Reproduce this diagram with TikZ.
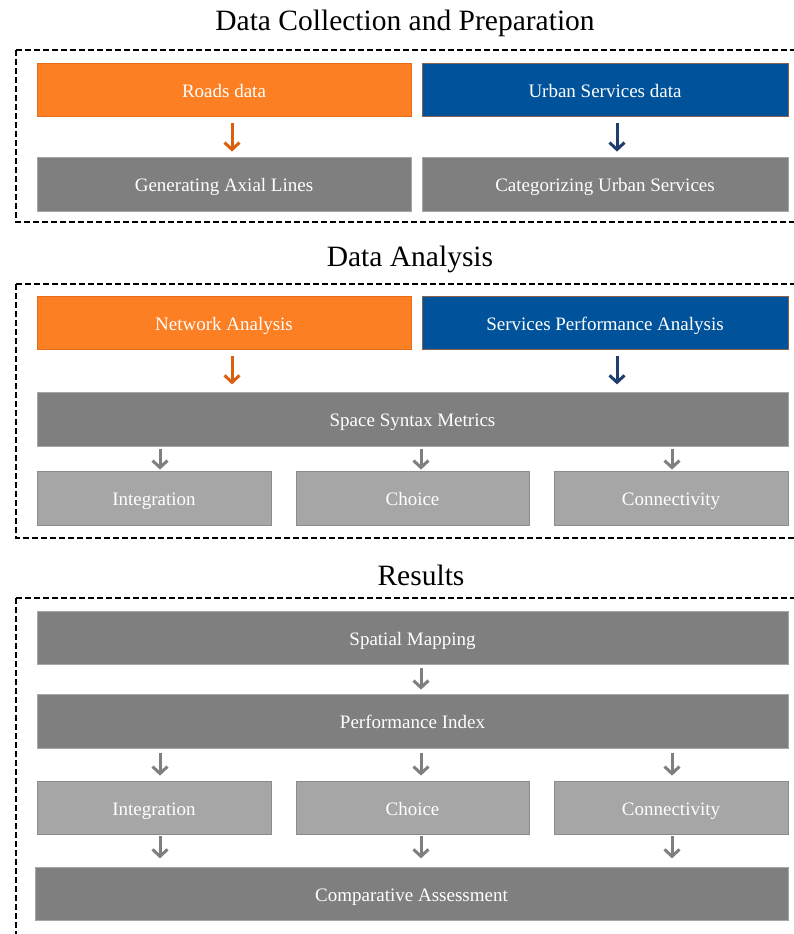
\documentclass[tikz,border=0pt]{standalone}
\usepackage{fontspec}
\setmainfont{Liberation Serif}
\usetikzlibrary{arrows.meta}
\definecolor{orng}{HTML}{FD7F23}
\definecolor{orngline}{HTML}{E46C1A}
\definecolor{orngarrow}{HTML}{D9600E}
\definecolor{blu}{HTML}{00539B}
\definecolor{bluarrow}{HTML}{1F3D6E}
\definecolor{dgrey}{HTML}{7F7F7F}
\definecolor{lgrey}{HTML}{A6A6A6}
\tikzset{
  basebox/.style={rectangle, inner sep=0pt, text=white, font=\fontsize{19}{20}\selectfont, text height=17pt, text depth=2pt, line width=0.8pt},
  orangebox/.style={basebox, fill=orng, draw=orngline},
  bluebox/.style={basebox, fill=blu, draw=orngline!60!blu},
  darkbox/.style={basebox, fill=dgrey, draw=lgrey},
  lightbox/.style={basebox, fill=lgrey, draw=dgrey!90},
  flowarrow/.style={line width=3pt, -{Straight Barb[length=7pt,width=15pt]}},
  oarrow/.style={flowarrow, draw=orngarrow},
  barrow/.style={flowarrow, draw=bluarrow},
  garrow/.style={flowarrow, draw=dgrey},
  frame/.style={draw=black, line width=1.4pt, dash pattern=on 6pt off 3pt},
  heading/.style={font=\fontsize{29.5}{33}\selectfont, text=black, inner sep=0pt}
}
\begin{document}
\begin{tikzpicture}[x=1pt,y=-1pt]
\useasboundingbox (0,0) rectangle (793,934);
% section 1
\node[heading] (t1) at (405,23) {Data Collection and Preparation};
\draw[frame] (16,50) -- (798,50) (16,50) -- (16,222) -- (798,222);
\node[orangebox, minimum width=374pt, minimum height=53pt] (roads) at (224,89.5) {Roads data};
\node[bluebox, minimum width=366pt, minimum height=53pt] (urban) at (605,89.5) {Urban Services data};
\node[darkbox, minimum width=374pt, minimum height=54pt] (gen) at (224,184) {Generating Axial Lines};
\node[darkbox, minimum width=366pt, minimum height=54pt] (cat) at (605,184) {Categorizing Urban Services};
\draw[oarrow] ([xshift=8pt,yshift=-7pt]roads.south) -- ([xshift=8pt,yshift=5pt]gen.north);
\draw[barrow] ([xshift=12pt,yshift=-7pt]urban.south) -- ([xshift=12pt,yshift=5pt]cat.north);
% section 2
\node[heading] (t2) at (410,259) {Data Analysis};
\draw[frame] (16,284) -- (798,284) (16,284) -- (16,538) -- (798,538);
\node[orangebox, minimum width=374pt, minimum height=53pt] (net) at (224,322.5) {Network Analysis};
\node[bluebox, minimum width=366pt, minimum height=53pt] (spa) at (605,322.5) {Services Performance Analysis};
\node[darkbox, minimum width=751pt, minimum height=54pt] (ssm) at (412.5,419) {Space Syntax Metrics};
\draw[oarrow] ([xshift=8pt,yshift=-7pt]net.south) -- ([xshift=8pt,yshift=-35pt]net.south);
\draw[barrow] ([xshift=12pt,yshift=-7pt]spa.south) -- ([xshift=12pt,yshift=-35pt]spa.south);
\node[lightbox, minimum width=234pt, minimum height=54pt] (int1) at (154,498) {Integration};
\node[lightbox, minimum width=233pt, minimum height=54pt] (cho1) at (412.5,498) {Choice};
\node[lightbox, minimum width=234pt, minimum height=54pt] (con1) at (671,498) {Connectivity};
\draw[garrow] ([xshift=6pt,yshift=22pt]int1.north) -- ([xshift=6pt,yshift=1pt]int1.north);
\draw[garrow] ([xshift=8.5pt,yshift=22pt]cho1.north) -- ([xshift=8.5pt,yshift=1pt]cho1.north);
\draw[garrow] ([xshift=1pt,yshift=22pt]con1.north) -- ([xshift=1pt,yshift=1pt]con1.north);
% section 3
\node[heading] (t3) at (421,575) {Results};
\draw[frame] (16,598) -- (798,598) (16,598) -- (16,940);
\node[darkbox, minimum width=751pt, minimum height=53pt] (map) at (412.5,637.5) {Spatial Mapping};
\node[darkbox, minimum width=751pt, minimum height=54pt] (perf) at (412.5,721) {Performance Index};
\draw[garrow] ([xshift=8.5pt,yshift=-4pt]map.south) -- ([xshift=8.5pt,yshift=4pt]perf.north);
\node[lightbox, minimum width=234pt, minimum height=53pt] (int2) at (154,807.5) {Integration};
\node[lightbox, minimum width=233pt, minimum height=53pt] (cho2) at (412.5,807.5) {Choice};
\node[lightbox, minimum width=234pt, minimum height=53pt] (con2) at (671,807.5) {Connectivity};
\draw[garrow] ([xshift=6pt,yshift=28pt]int2.north) -- ([xshift=6pt,yshift=5pt]int2.north);
\draw[garrow] ([xshift=8.5pt,yshift=28pt]cho2.north) -- ([xshift=8.5pt,yshift=5pt]cho2.north);
\draw[garrow] ([xshift=1pt,yshift=28pt]con2.north) -- ([xshift=1pt,yshift=5pt]con2.north);
\node[darkbox, minimum width=753pt, minimum height=53pt] (comp) at (411.5,893.5) {Comparative Assessment};
\draw[garrow] ([xshift=6pt,yshift=-2pt]int2.south) -- ([xshift=6pt,yshift=-24pt]int2.south);
\draw[garrow] ([xshift=8.5pt,yshift=-2pt]cho2.south) -- ([xshift=8.5pt,yshift=-24pt]cho2.south);
\draw[garrow] ([xshift=1pt,yshift=-2pt]con2.south) -- ([xshift=1pt,yshift=-24pt]con2.south);
\end{tikzpicture}
\end{document}
